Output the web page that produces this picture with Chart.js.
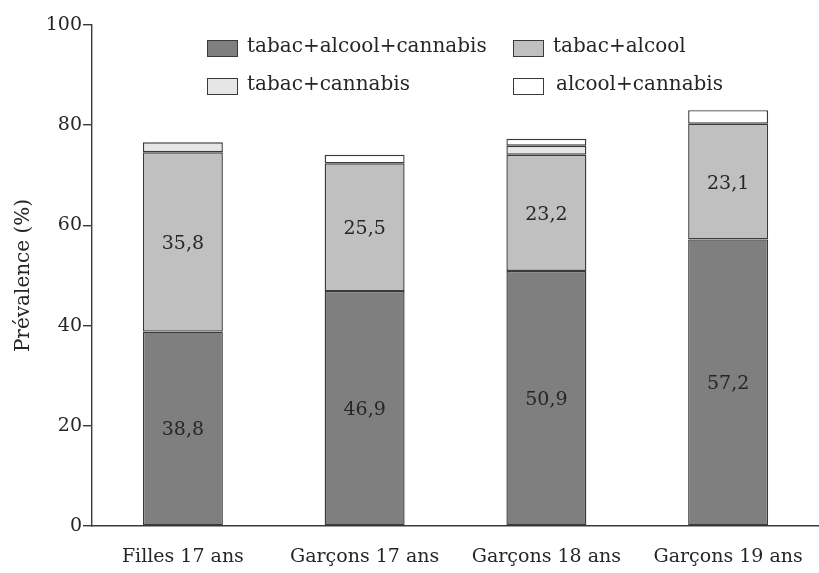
<!DOCTYPE html>
<html>
<head>
<meta charset="utf-8">
<script src="https://cdn.jsdelivr.net/npm/chart.js@4"></script>
<style>
  html, body { margin: 0; padding: 0; background: #fff; }
  #wrap { width: 819px; height: 573px; }
</style>
</head>
<body>
<div id="wrap"><canvas id="chart"></canvas></div>
<script>
const categories = ["Filles 17 ans", "Garçons 17 ans", "Garçons 18 ans", "Garçons 19 ans"];
const seriesNames = ["tabac+alcool+cannabis", "tabac+alcool", "tabac+cannabis", "alcool+cannabis"];
const tabacAlcoolCannabis = [38.8, 46.9, 50.9, 57.2];
const tabacAlcool = [35.8, 25.5, 23.2, 23.1];
const tabacCannabis = [2.0, null, 1.8, null];
const alcoolCannabis = [null, 1.7, 1.4, 2.7];
const yTicks = [0, 20, 40, 60, 80, 100];

const FONT = "'DejaVu Serif', serif";
const INK = "#3a3a3a";
const TEXT = "#262626";
const fills = ["#7f7f7f", "#c0c0c0", "#e6e6e6", "#ffffff"];

// bars that carry a printed value (first two series)
const labelled = [0, 1];

const valueLabels = {
  id: "valueLabels",
  afterDatasetsDraw(chart) {
    const ctx = chart.ctx;
    ctx.save();
    ctx.font = "19px " + FONT;
    ctx.fillStyle = TEXT;
    ctx.textAlign = "center";
    ctx.textBaseline = "middle";
    for (const di of labelled) {
      const meta = chart.getDatasetMeta(di);
      meta.data.forEach((bar, i) => {
        const v = chart.data.datasets[di].data[i];
        if (v == null) return;
        const p = bar.getCenterPoint();
        ctx.fillText(v.toFixed(1).replace(".", ","), p.x, p.y + 2);
      });
    }
    ctx.restore();
  },
};

// two-column legend placed inside the plot, as in the source figure
const boxLegend = {
  id: "boxLegend",
  afterDraw(chart) {
    const ctx = chart.ctx;
    const spots = [
      [207, 40], [513, 40],
      [207, 78], [513, 78],
    ];
    ctx.save();
    ctx.font = "20px " + FONT;
    ctx.textBaseline = "middle";
    chart.data.datasets.forEach((ds, i) => {
      const [x, y] = spots[i];
      ctx.fillStyle = ds.backgroundColor;
      ctx.fillRect(x, y, 30, 16);
      ctx.strokeStyle = INK;
      ctx.lineWidth = 1;
      ctx.strokeRect(x + 0.5, y + 0.5, 30, 16);
      ctx.fillStyle = TEXT;
      ctx.fillText(ds.label, x + 40 + (i === 3 ? 3 : 0), y + 7);
    });
    ctx.restore();
  },
};

new Chart(document.getElementById("chart"), {
  type: "bar",
  data: {
    labels: categories,
    datasets: [tabacAlcoolCannabis, tabacAlcool, tabacCannabis, alcoolCannabis].map((d, i) => ({
      label: seriesNames[i],
      data: d,
      backgroundColor: fills[i],
      borderColor: INK,
      borderWidth: 1.4,
      borderSkipped: false,
      barPercentage: 0.44,
      categoryPercentage: 1,
    })),
  },
  options: {
    responsive: true,
    maintainAspectRatio: false,
    animation: false,
    layout: { padding: { top: 25, right: 0, bottom: 0, left: 0 } },
    plugins: {
      legend: { display: false },
      tooltip: { enabled: false },
    },
    scales: {
      x: {
        stacked: true,
        grid: { display: false },
        border: { display: true, color: INK, width: 1.4 },
        ticks: { color: TEXT, font: { family: FONT, size: 19 }, padding: 12 },
        afterFit(scale) { scale.height = 47; },
      },
      y: {
        stacked: true,
        min: 0,
        max: 100,
        afterBuildTicks(scale) { scale.ticks = yTicks.map(v => ({ value: v })); },
        grid: { drawOnChartArea: false, drawTicks: true, tickLength: 9, color: INK, lineWidth: 1.4 },
        border: { display: true, color: INK, width: 1.4 },
        ticks: { color: TEXT, font: { family: FONT, size: 19 }, padding: 1 },
        title: {
          display: true,
          text: "Prévalence (%)",
          color: TEXT,
          font: { family: FONT, size: 20 },
          padding: { top: 12, bottom: 0 },
        },
        afterFit(scale) { scale.width = 92; },
      },
    },
  },
  plugins: [valueLabels, boxLegend],
});
</script>
</body>
</html>
